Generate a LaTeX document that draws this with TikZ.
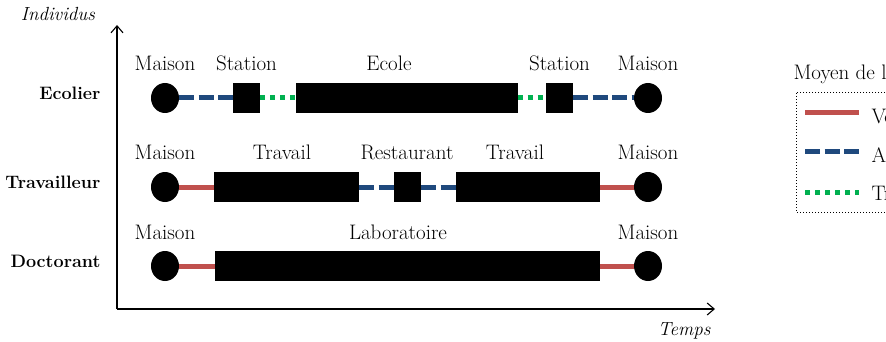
\documentclass[tikz,border=0pt]{standalone}
\usetikzlibrary{shapes.geometric,arrows.meta}
\definecolor{carred}{RGB}{192,80,77}
\definecolor{walkblue}{RGB}{31,73,125}
\definecolor{traingreen}{RGB}{0,176,80}
\begin{document}
\begin{tikzpicture}[
    x=1pt, y=-1pt,
    house/.style={ellipse, fill=black, inner sep=0pt, minimum width=28pt, minimum height=30pt},
    place/.style={rectangle, fill=black, inner sep=0pt, minimum height=30pt},
    lab/.style={anchor=base, font=\fontsize{21}{24}\selectfont},
    who/.style={anchor=base east, font=\fontsize{18}{22}\selectfont\bfseries},
    axname/.style={font=\fontsize{19}{22}\selectfont\itshape},
    axis/.style={line width=1.1pt, -{Straight Barb[length=7pt,width=12pt]}},
    car/.style={draw=carred, line width=5pt},
    walk/.style={draw=walkblue, line width=5pt, dash pattern=on 15pt off 4.5pt},
    train/.style={draw=traingreen, line width=5pt, dash pattern=on 5pt off 5pt},
  ]
    \useasboundingbox (0,0) rectangle (886,342);
    \clip (0,0) rectangle (886,342);

    \coordinate (o) at (117,309);
    \coordinate (ytip) at (117,25);
    \coordinate (xtip) at (715,309);
    \draw[axis] (o) -- (ytip);
    \draw[axis] (o) -- (xtip);
    \node[axname, anchor=base] (yname) at (58,21) {Individus};
    \node[axname, anchor=base east] (xname) at (714,335) {Temps};

    % Ecolier
    \node[who] (ecolier) at (104,100) {Ecolier};
    \node[house] (e0) at (165,98) {};
    \node[place, minimum width=27pt] (e1) at (246.5,98) {};
    \node[place, minimum width=222pt] (e2) at (406.5,98) {};
    \node[place, minimum width=27pt] (e3) at (559.5,98) {};
    \node[house] (e4) at (648,98) {};
    \node[lab] (le0) at (165,71) {Maison};
    \node[lab] (le1) at (246.5,71) {Station};
    \node[lab] (le2) at (389,71) {Ecole};
    \node[lab] (le3) at (559.5,71) {Station};
    \node[lab] (le4) at (648,71) {Maison};
    \draw[walk] (e0) -- (e1);
    \draw[train] (e1) -- (e2);
    \draw[train] (e2) -- (e3);
    \draw[walk] (e3) -- (e4);

    % Travailleur
    \node[who] (travailleur) at (104,188) {Travailleur};
    \node[house] (t0) at (165,187) {};
    \node[place, minimum width=145pt] (t1) at (286.5,187) {};
    \node[place, minimum width=27pt] (t2) at (407.5,187) {};
    \node[place, minimum width=144pt] (t3) at (528,187) {};
    \node[house] (t4) at (648,187) {};
    \node[lab] (lt0) at (165,160) {Maison};
    \node[lab] (lt1) at (282,160) {Travail};
    \node[lab] (lt2) at (407,160) {Restaurant};
    \node[lab] (lt3) at (515,160) {Travail};
    \node[lab] (lt4) at (648,160) {Maison};
    \draw[car] (t0) -- (t1);
    \draw[walk] (t1) -- (t2);
    \draw[walk] (t2) -- (t3);
    \draw[car] (t3) -- (t4);

    % Doctorant
    \node[who] (doctorant) at (104,267) {Doctorant};
    \node[house] (d0) at (165,266) {};
    \node[place, minimum width=385pt] (d1) at (407.5,266) {};
    \node[house] (d2) at (648,266) {};
    \node[lab] (ld0) at (165,239) {Maison};
    \node[lab] (ld1) at (398,239) {Laboratoire};
    \node[lab] (ld2) at (648,239) {Maison};
    \draw[car] (d0) -- (d1);
    \draw[car] (d1) -- (d2);

    % legende
    \node[lab, anchor=base west] (ltitle) at (790,80) {Moyen de locomotion};
    \draw[line width=1pt, dotted] (796,93) rectangle (960,212);
    \draw[car] (805,113) -- (859,113);
    \draw[walk] (805,152) -- (859,152);
    \draw[train] (805,192) -- (859,192);
    \node[lab, anchor=base west] (lcar) at (868,124) {Voiture};
    \node[lab, anchor=base west] (lwalk) at (868,162) {A pied};
    \node[lab, anchor=base west] (ltrain) at (868,200) {Train};
  \end{tikzpicture}
\end{document}
